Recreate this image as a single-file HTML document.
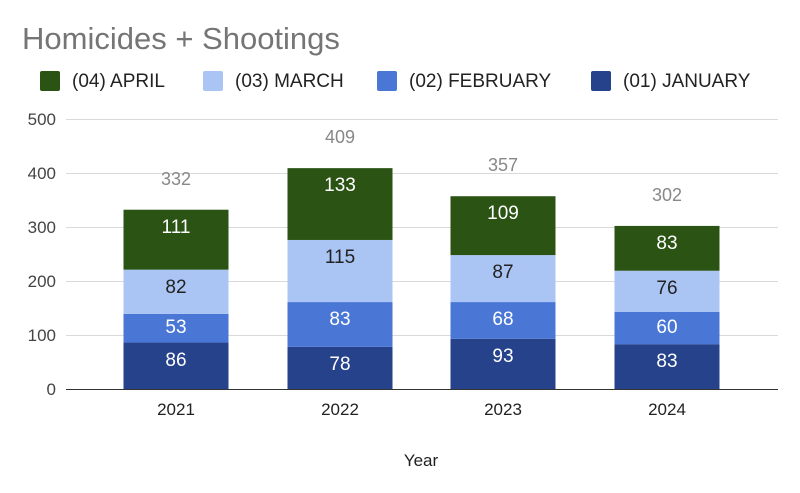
<!DOCTYPE html>
<html><head><style>body{margin:0;background:#fff}svg{display:block;font-family:"Liberation Sans",Arial,sans-serif}</style></head>
<body>
<svg width="800" height="493" viewBox="0 0 800 493" xmlns="http://www.w3.org/2000/svg">
<rect width="800" height="493" fill="#fff"/>
<text x="22" y="49" font-size="31" fill="#757575">Homicides + Shootings</text>
<g font-size="19" fill="#222">
<rect x="40" y="71" width="20" height="20" rx="2" fill="#2b5314"/><text x="72" y="87">(04) APRIL</text>
<rect x="203" y="71" width="20" height="20" rx="2" fill="#aac4f4"/><text x="235" y="87">(03) MARCH</text>
<rect x="377" y="71" width="20" height="20" rx="2" fill="#4a77d6"/><text x="409" y="87">(02) FEBRUARY</text>
<rect x="591" y="71" width="20" height="20" rx="2" fill="#26428b"/><text x="623" y="87">(01) JANUARY</text>
</g>
<g stroke="#d9d9d9" stroke-width="1">
<line x1="66" x2="778" y1="119.5" y2="119.5"/><line x1="66" x2="778" y1="173.5" y2="173.5"/>
<line x1="66" x2="778" y1="227.5" y2="227.5"/><line x1="66" x2="778" y1="281.5" y2="281.5"/>
<line x1="66" x2="778" y1="335.5" y2="335.5"/>
</g>
<g font-size="17" fill="#444" text-anchor="end">
<text x="56" y="125">500</text><text x="56" y="179">400</text><text x="56" y="233">300</text>
<text x="56" y="287">200</text><text x="56" y="341">100</text><text x="56" y="395">0</text>
</g>
<g>
<rect x="123.5" y="342.56" width="105" height="46.44" fill="#26428b"/>
<rect x="123.5" y="313.94" width="105" height="28.62" fill="#4a77d6"/>
<rect x="123.5" y="269.66" width="105" height="44.28" fill="#aac4f4"/>
<rect x="123.5" y="209.72" width="105" height="59.94" fill="#2b5314"/>
<rect x="287.5" y="346.88" width="105" height="42.12" fill="#26428b"/>
<rect x="287.5" y="302.06" width="105" height="44.82" fill="#4a77d6"/>
<rect x="287.5" y="239.96" width="105" height="62.1" fill="#aac4f4"/>
<rect x="287.5" y="168.14" width="105" height="71.82" fill="#2b5314"/>
<rect x="450.5" y="338.78" width="105" height="50.22" fill="#26428b"/>
<rect x="450.5" y="302.06" width="105" height="36.72" fill="#4a77d6"/>
<rect x="450.5" y="255.08" width="105" height="46.98" fill="#aac4f4"/>
<rect x="450.5" y="196.22" width="105" height="58.86" fill="#2b5314"/>
<rect x="614.5" y="344.18" width="105" height="44.82" fill="#26428b"/>
<rect x="614.5" y="311.78" width="105" height="32.4" fill="#4a77d6"/>
<rect x="614.5" y="270.74" width="105" height="41.04" fill="#aac4f4"/>
<rect x="614.5" y="225.92" width="105" height="44.82" fill="#2b5314"/>
</g>
<g font-size="19" text-anchor="middle" fill="#fff">
<text x="176" y="366">86</text><text x="176" y="333">53</text><text x="176" y="293" fill="#222">82</text><text x="176" y="233">111</text>
<text x="340" y="370">78</text><text x="340" y="325">83</text><text x="340" y="263" fill="#222">115</text><text x="340" y="191">133</text>
<text x="503" y="362">93</text><text x="503" y="325">68</text><text x="503" y="278" fill="#222">87</text><text x="503" y="219">109</text>
<text x="667" y="367">83</text><text x="667" y="333">60</text><text x="667" y="294" fill="#222">76</text><text x="667" y="249">83</text>
</g>
<g font-size="18" text-anchor="middle" fill="#888">
<text x="176" y="185">332</text><text x="340" y="143">409</text><text x="503" y="171">357</text><text x="667" y="201">302</text>
</g>
<line x1="66" x2="778" y1="389.5" y2="389.5" stroke="#333"/>
<g font-size="17" fill="#222" text-anchor="middle">
<text x="176" y="415">2021</text><text x="340" y="415">2022</text><text x="503" y="415">2023</text><text x="667" y="415">2024</text>
<text x="421" y="466">Year</text>
</g>
</svg>
</body></html>
